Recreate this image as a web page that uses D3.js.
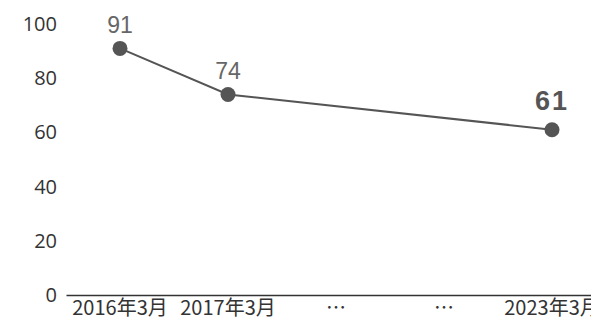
<!DOCTYPE html>
<html>
<head>
<meta charset="utf-8">
<script src="https://cdn.jsdelivr.net/npm/d3@7"></script>
<style>
  body { margin: 0; background: #fff; }
  svg { display: block; }
  .axis text { fill: #333; }
</style>
</head>
<body>
<svg width="591" height="320"></svg>
<script>
var categories = ["2016年3月", "2017年3月", "…", "…", "2023年3月"];
var values = [91, 74, null, null, 61];
var yTicks = [0, 20, 40, 60, 80, 100];

var svg = d3.select("svg"),
    margin = {top: 24, right: -15, bottom: 25, left: 66},
    width = +svg.attr("width") - margin.left - margin.right,
    height = +svg.attr("height") - margin.top - margin.bottom,
    g = svg.append("g").attr("transform", "translate(" + margin.left + "," + margin.top + ")");

var x = d3.scaleBand()
    .domain(d3.range(categories.length))
    .range([0, width]);

var y = d3.scaleLinear()
    .domain([0, 100])
    .range([height, 0]);

var data = categories.map(function(c, i) { return {i: i, v: values[i]}; })
    .filter(function(d) { return d.v != null; });

// y axis, labels only
var yAxis = g.append("g")
    .attr("class", "axis")
    .call(d3.axisLeft(y).tickValues(yTicks).tickSize(0).tickPadding(9));
yAxis.select(".domain").remove();
yAxis.selectAll("text")
    .style("font-family", "\"Open Sans\", sans-serif")
    .style("font-size", "20px")
    .attr("fill", "#333");

// x axis
var xAxis = g.append("g")
    .attr("class", "axis")
    .attr("transform", "translate(0," + height + ")")
    .call(d3.axisBottom(x).tickSize(0).tickPadding(0).tickFormat(function(i) { return categories[i]; }));
xAxis.select(".domain").attr("stroke", "#333").attr("stroke-width", 1.5);
xAxis.selectAll("text")
    .style("font-family", "\"Noto Sans CJK JP\", sans-serif")
    .style("font-size", "20px")
    .attr("fill", "#222")
    .attr("y", 20)
    .attr("dy", 0);

var cx = function(d) { return x(d.i) + x.bandwidth() / 2; };

g.append("path")
    .datum(data)
    .attr("fill", "none")
    .attr("stroke", "#555")
    .attr("stroke-width", 2)
    .attr("d", d3.line().x(cx).y(function(d) { return y(d.v); }));

g.selectAll(".dot")
    .data(data)
    .enter().append("circle")
    .attr("class", "dot")
    .attr("cx", cx)
    .attr("cy", function(d) { return y(d.v); })
    .attr("r", 7.5)
    .attr("fill", "#555");

g.selectAll(".val")
    .data(data)
    .enter().append("text")
    .attr("class", "val")
    .attr("x", cx)
    .attr("y", function(d, i) { return y(d.v) - (i == data.length - 1 ? 20 : 15); })
    .attr("text-anchor", "middle")
    .style("font-family", "\"Liberation Sans\", sans-serif")
    .style("font-size", function(d, i) { return i == data.length - 1 ? "27px" : "23px"; })
    .style("font-weight", function(d, i) { return i == data.length - 1 ? "bold" : "normal"; })
    .style("letter-spacing", function(d, i) { return i == data.length - 1 ? "2px" : "0px"; })
    .attr("fill", function(d, i) { return i == data.length - 1 ? "#555" : "#666"; })
    .text(function(d) { return d.v; });
</script>
</body>
</html>
